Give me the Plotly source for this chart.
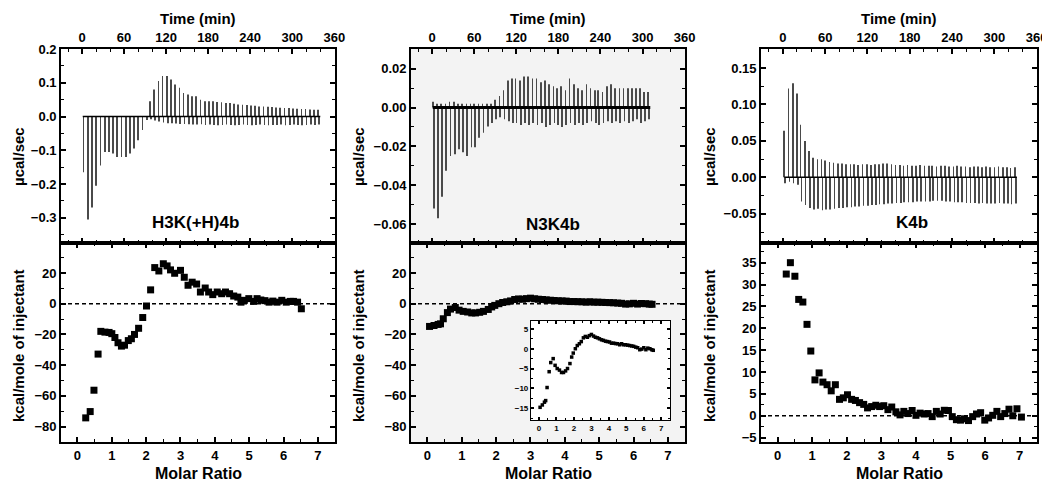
import plotly.graph_objects as go

FONT = "Liberation Sans"

# ---------------- Raw thermograms (injection times in min, peak heights in µcal/sec) ----------------
t1 = [1, 7, 13, 19, 25, 31, 37, 43, 49, 55, 61, 67, 73, 79, 85, 91, 97, 103, 109, 115, 121, 127, 133,
      139, 145, 151, 157, 163, 169, 175, 181, 187, 193, 199, 205, 211, 217, 223, 229, 235, 241, 247,
      253, 259, 265, 271, 277, 283, 289, 295, 301, 307, 313, 319, 325, 331, 337]
up1 = [0, 0, 0, 0, 0, 0, 0, 0, 0, 0, 0, 0, 0, 0, 0, 0,
       0.045, 0.08, 0.105, 0.12, 0.12, 0.11, 0.095, 0.085, 0.07, 0.065, 0.06, 0.06, 0.05, 0.045, 0.045,
       0.045, 0.043, 0.042, 0.04, 0.04, 0.038, 0.036, 0.035, 0.034, 0.033, 0.032, 0.03, 0.03, 0.029,
       0.028, 0.027, 0.026, 0.025, 0.025, 0.024, 0.023, 0.022, 0.022, 0.021, 0.02, 0.02]
down1 = [-0.165, -0.305, -0.27, -0.205, -0.145, -0.105, -0.105, -0.11, -0.12, -0.12, -0.12, -0.11,
         -0.095, -0.07, -0.04, -0.01,
         -0.008, -0.012, -0.015, -0.018, -0.02, -0.02, -0.021, -0.022, -0.022, -0.023, -0.024, -0.024,
         -0.023, -0.025, -0.024, -0.025, -0.026, -0.025, -0.024, -0.025, -0.026, -0.025, -0.024, -0.025,
         -0.026, -0.025, -0.024, -0.025, -0.026, -0.025, -0.025, -0.024, -0.026, -0.025, -0.024, -0.025,
         -0.026, -0.025, -0.024, -0.025, -0.024]

t2 = [1, 7, 13, 19, 25, 31, 37, 43, 49, 55, 60, 66, 72, 78, 84, 90, 96, 102, 108, 114, 119, 125, 131,
      137, 143, 149, 155, 161, 167, 173, 178, 184, 190, 196, 202, 208, 214, 220, 226, 232, 237, 243,
      249, 255, 261, 267, 273, 279, 285, 291, 296, 302, 308]
up2 = [0.003, 0.002, 0.002, 0.002, 0.003, 0.003, 0.002, 0.002, 0.002, 0.002, 0.002, 0.002, 0.002, 0.002,
       0.002, 0.004, 0.006, 0.009, 0.014, 0.015, 0.015, 0.014, 0.016, 0.016, 0.015, 0.015, 0.013, 0.014,
       0.012, 0.011, 0.010, 0.011, 0.009, 0.015, 0.012, 0.010, 0.009, 0.012, 0.010, 0.009, 0.009, 0.008,
       0.011, 0.012, 0.010, 0.010, 0.010, 0.010, 0.010, 0.010, 0.010, 0.008, 0.008]
down2 = [-0.052, -0.057, -0.046, -0.0325, -0.025, -0.024, -0.0215, -0.023, -0.025, -0.0205, -0.0205,
         -0.0155, -0.013, -0.0097, -0.008, -0.006, -0.005,
         -0.006, -0.007, -0.008, -0.008, -0.009, -0.008, -0.009, -0.008, -0.009, -0.008, -0.010, -0.009,
         -0.008, -0.009, -0.010, -0.009, -0.008, -0.009, -0.008, -0.009, -0.008, -0.007, -0.008, -0.009,
         -0.008, -0.007, -0.008, -0.007, -0.008, -0.007, -0.008, -0.007, -0.006, -0.008, -0.007, -0.006]

t3 = [2, 8, 14, 20, 25, 31, 37, 43, 49, 55, 60, 66, 72, 78, 84, 90, 96, 101, 107, 113, 119, 125, 131,
      136, 142, 148, 154, 160, 166, 171, 177, 183, 189, 195, 201, 207, 212, 218, 224, 230, 236, 242,
      247, 253, 259, 265, 271, 277, 282, 288, 294, 300, 306, 312, 318, 323, 329]
up3 = [0.064, 0.122, 0.129, 0.115, 0.072, 0.050, 0.036, 0.027, 0.025, 0.025,
       0.023, 0.021, 0.020, 0.019, 0.019, 0.018, 0.018, 0.018, 0.017, 0.018,
       0.018, 0.017, 0.018, 0.018, 0.019, 0.019, 0.018, 0.017, 0.017, 0.016,
       0.017, 0.016, 0.016, 0.017, 0.016, 0.016, 0.016, 0.015, 0.016, 0.016,
       0.015, 0.015, 0.016, 0.015, 0.015, 0.014, 0.015, 0.015, 0.014, 0.015,
       0.014, 0.014, 0.015, 0.014, 0.014, 0.013, 0.014]
down3 = [-0.008, -0.006, -0.008, -0.010, -0.033, -0.038, -0.042, -0.044, -0.043, -0.045,
         -0.044, -0.044, -0.043, -0.042, -0.042, -0.041, -0.041, -0.040, -0.040, -0.039,
         -0.039, -0.038, -0.038, -0.037, -0.037, -0.036, -0.036, -0.035, -0.035, -0.034,
         -0.034, -0.034, -0.033, -0.033, -0.033, -0.033, -0.032, -0.032, -0.032, -0.033,
         -0.033, -0.034, -0.034, -0.034, -0.035, -0.035, -0.035, -0.036, -0.035, -0.036,
         -0.036, -0.036, -0.035, -0.036, -0.036, -0.037, -0.036]

# ---------------- Integrated heats (kcal/mole of injectant vs molar ratio) ----------------
mr1 = [0.24, 0.37, 0.48, 0.60, 0.68, 0.80, 0.92, 1.0, 1.09, 1.18, 1.28, 1.37, 1.48, 1.57, 1.66, 1.78,
       1.90, 2.01, 2.13, 2.25, 2.37, 2.50, 2.61, 2.71, 2.83, 3.0, 3.11, 3.22, 3.34, 3.47, 3.58, 3.72,
       3.82, 3.94, 4.07, 4.2, 4.31, 4.43, 4.55, 4.67, 4.76, 4.86, 4.99, 5.13, 5.23, 5.34, 5.46, 5.58,
       5.69, 5.81, 5.95, 6.08, 6.2, 6.29, 6.41, 6.52]
dh1 = [-74.3, -70.2, -56.3, -32.8, -18, -18.5, -18.7, -19.5, -22, -25.4, -27.6, -27, -24, -22.8, -20,
       -16, -9, -1.5, 9, 23.5, 21.3, 26, 24.6, 22, 19.8, 21.7, 17.2, 12, 14, 12.8, 7.6, 10.2, 7.6, 5.9,
       7.6, 6.5, 7.6, 6.5, 5.0, 4.3, 1, 2.2, 3.3, 1.5, 3.3, 2.4, 2, 1, 1.7, 1, 2.2, 1, 1.5, 1.5, 1, -3.3]

mr2 = [0.06, 0.19, 0.31, 0.38, 0.46, 0.58, 0.67, 0.81, 0.92, 1.04, 1.17, 1.29, 1.40, 1.52, 1.63, 1.77,
       1.87, 1.96, 2.08, 2.19, 2.31, 2.42, 2.54, 2.65, 2.77, 2.88, 3.0, 3.12, 3.23, 3.35, 3.46, 3.58,
       3.69, 3.81, 3.92, 4.04, 4.15, 4.27, 4.38, 4.5, 4.62, 4.73, 4.85, 4.96, 5.08, 5.19, 5.31, 5.42,
       5.54, 5.65, 5.77, 5.88, 6.0, 6.12, 6.23, 6.35, 6.46, 6.54]
dh2 = [-14.8, -14.2, -13.5, -13.1, -9.8, -5.8, -3.5, -2.5, -4.2, -5, -5.4, -6, -6, -5.6, -5, -3.75,
       -2.1, -1.1, 0, 0.8, 1.25, 1.8, 2.75, 3.1, 2.9, 3.3, 3.6, 3.2, 2.9, 2.75, 2.5, 2.25, 2.1, 1.9,
       1.8, 1.7, 1.4, 1.4, 1.3, 1.25, 1.0, 1.25, 1.0, 1.0, 0.9, 0.8, 0.7, 0.6, 0.4, 0.25, -0.25, -0.1,
       0.25, -0.25, 0.15, 0, -0.25, -0.4]

mr3 = [0.25, 0.37, 0.50, 0.61, 0.73, 0.85, 0.96, 1.08, 1.20, 1.31, 1.43, 1.55, 1.67, 1.79, 1.90, 2.02,
       2.14, 2.25, 2.37, 2.49, 2.60, 2.72, 2.84, 2.95, 3.07, 3.19, 3.30, 3.42, 3.54, 3.65, 3.77, 3.89,
       4.0, 4.12, 4.24, 4.35, 4.47, 4.59, 4.70, 4.82, 4.94, 5.05, 5.17, 5.29, 5.40, 5.52, 5.64, 5.75,
       5.87, 5.99, 6.10, 6.22, 6.34, 6.45, 6.57, 6.69, 6.80, 6.92, 7.05]
dh3 = [32.4, 35, 31.9, 26.6, 26, 20.9, 14.8, 8.2, 9.8, 7.7, 7.1, 5.7, 7.1, 3.75, 4.1, 4.8, 3.75, 3.5,
       3.0, 2.6, 1.8, 2.1, 2.4, 2.1, 2.3, 1.4, 2.0, 0.9, 0.2, 1.0, 0.5, 1.2, 0.1, 0.6, 0.4, 0.5, -0.2,
       1.0, 0.4, 1.25, 1.2, -0.2, -0.9, -1.0, -0.7, -1.1, -0.2, 0.4, 0.7, -1.0, -0.5, 0.1, 1.0, -0.2,
       0.5, 1.5, 0.0, 1.6, -0.3]

names = ["H3K(+H)4b", "N3K4b", "K4b"]

# the page body has an 8px margin, so the figure is drawn 8px smaller and positions are shifted
OFF = 8
W, H = 1050 - OFF, 492 - OFF


def px(x):
    return (x - OFF) / W


def py(y):
    return 1 - (y - OFF) / H


fig = go.Figure()

spike_color = "#4a4a4a"


def add_thermo(times, up, down, xa, ya, base_w):
    fig.add_trace(go.Bar(x=times, y=up, width=1.0, marker=dict(color=spike_color, line=dict(width=0)),
                         xaxis=xa, yaxis=ya, showlegend=False))
    fig.add_trace(go.Bar(x=[t + 1.3 for t in times], y=down, width=1.0,
                         marker=dict(color=spike_color, line=dict(width=0)),
                         xaxis=xa, yaxis=ya, showlegend=False))
    fig.add_trace(go.Scatter(x=[times[0], times[-1] + 3], y=[0, 0], mode="lines",
                             line=dict(color="black", width=base_w), xaxis=xa, yaxis=ya,
                             showlegend=False))


def add_heat(mr, dh, xa, ya, size):
    fig.add_trace(go.Scatter(x=mr, y=dh, mode="markers",
                             marker=dict(symbol="square", size=size, color="black", line=dict(width=0)),
                             xaxis=xa, yaxis=ya, showlegend=False))


add_thermo(t1, up1, down1, "x", "y", 1.5)
add_heat(mr1, dh1, "x2", "y2", 7)
add_thermo(t2, up2, down2, "x3", "y3", 3)
add_heat(mr2, dh2, "x4", "y4", 7)
add_thermo(t3, up3, down3, "x5", "y5", 1.5)
add_heat(mr3, dh3, "x6", "y6", 7)
add_heat(mr2, dh2, "x7", "y7", 3.5)


def axis(domain, rng, dtick, minor, anchor, fmt=None, side=None, size=13, ticklen=5, mticklen=3,
         lw=1.8):
    d = dict(domain=domain, range=rng, dtick=dtick, tick0=0, ticks="inside", ticklen=ticklen,
             tickwidth=1.5, tickcolor="black", showline=True, linewidth=lw, linecolor="black",
             mirror="ticks", showgrid=False, zeroline=False, anchor=anchor, fixedrange=True,
             automargin=False,
             minor=dict(dtick=minor, tick0=0, ticks="inside", ticklen=mticklen, tickwidth=1.2,
                        tickcolor="black", showgrid=False),
             tickfont=dict(family=FONT, size=size, color="black", weight="bold"))
    if fmt:
        d["tickformat"] = fmt
    if side:
        d["side"] = side
    return d


panels_x = [(61, 335), (411, 685), (761, 1037)]
top_y = (py(243), py(49))
bot_y = (py(442), py(243))

time_ranges = [[-30, 361], [-30, 360.5], [-31, 360.5]]
top_yr = [[-0.375, 0.2002], [-0.0698, 0.0302], [-0.09, 0.176]]
top_dt = [(0.1, 0.05, ".1f"), (0.02, 0.01, ".2f"), (0.05, 0.025, ".2f")]
bot_yr = [[-90, 39.5], [-90, 39.5], [-6, 39.5]]
bot_dt = [(20, 10), (20, 10), (5, 2.5)]

layout = dict(width=W, height=H, margin=dict(l=0, r=0, t=0, b=0, autoexpand=False),
              paper_bgcolor="white", plot_bgcolor="white", barmode="overlay",
              font=dict(family=FONT, color="black"))

for i in range(3):
    xd = (px(panels_x[i][0]), px(panels_x[i][1]))
    n_top = 2 * i + 1
    n_bot = 2 * i + 2
    xt = "xaxis" if n_top == 1 else f"xaxis{n_top}"
    yt = "yaxis" if n_top == 1 else f"yaxis{n_top}"
    layout[xt] = axis(xd, time_ranges[i], 60, 20, "y" if n_top == 1 else f"y{n_top}", side="top")
    layout[yt] = axis(top_y, top_yr[i], top_dt[i][0], top_dt[i][1], "x" if n_top == 1 else f"x{n_top}",
                      fmt=top_dt[i][2])
    layout[f"xaxis{n_bot}"] = axis(xd, [-0.48, 7.5], 1, 0.5, f"y{n_bot}")
    layout[f"yaxis{n_bot}"] = axis(bot_y, bot_yr[i], bot_dt[i][0], bot_dt[i][1], f"x{n_bot}")

# inset
layout["xaxis7"] = axis((px(531), px(670)), [-0.46, 7.5], 1, 0.5, "y7", size=8, ticklen=3, mticklen=2,
                        lw=1.2)
layout["yaxis7"] = axis((py(420), py(321)), [-18, 7], 5, 2.5, "x7", size=8, ticklen=3, mticklen=2, lw=1.2)

fig.update_layout(**layout)

# light grey panel background for the middle column (as in the scan)
shapes = []
for xa, ya in [("x3", "y3"), ("x4", "y4")]:
    shapes.append(dict(type="rect", xref=f"{xa} domain", yref=f"{ya} domain", x0=0, x1=1, y0=0, y1=1,
                       fillcolor="#f3f3f3", line=dict(width=0), layer="below"))
shapes.append(dict(type="rect", xref="x7 domain", yref="y7 domain", x0=0, x1=1, y0=0, y1=1,
                   fillcolor="white", line=dict(width=0), layer="below"))
for xa, ya in [("x2", "y2"), ("x4", "y4"), ("x6", "y6")]:
    shapes.append(dict(type="line", xref=f"{xa} domain", yref=ya, x0=0, x1=1, y0=0, y1=0,
                       line=dict(color="black", width=1.5, dash="4px,3px"), layer="below"))
fig.update_layout(shapes=shapes)

ann = []
tf = dict(family=FONT, color="black", weight="bold")
centers = [198, 548, 899]
ylab_x = [18, 358, 709]
label_pos = [(195, 222), (553, 224), (912, 222)]
for i in range(3):
    ann.append(dict(text="Time (min)", x=px(centers[i]), y=py(18), xref="paper", yref="paper",
                    showarrow=False, font=dict(size=15, **tf), xanchor="center", yanchor="middle"))
    ann.append(dict(text="Molar Ratio", x=px(centers[i]), y=py(473), xref="paper", yref="paper",
                    showarrow=False, font=dict(size=16, **tf), xanchor="center", yanchor="middle"))
    ann.append(dict(text="µcal/sec", x=px(ylab_x[i]), y=py(157), xref="paper", yref="paper",
                    showarrow=False, font=dict(size=15, **tf), textangle=-90,
                    xanchor="center", yanchor="middle"))
    ann.append(dict(text="kcal/mole of injectant", x=px(ylab_x[i]), y=py(346), xref="paper",
                    yref="paper", showarrow=False, font=dict(size=15, **tf), textangle=-90,
                    xanchor="center", yanchor="middle"))
    ann.append(dict(text=names[i], x=px(label_pos[i][0]), y=py(label_pos[i][1]), xref="paper",
                    yref="paper", showarrow=False, font=dict(size=17, **tf),
                    xanchor="center", yanchor="middle"))
fig.update_layout(annotations=ann)

fig.write_html("out.html")
